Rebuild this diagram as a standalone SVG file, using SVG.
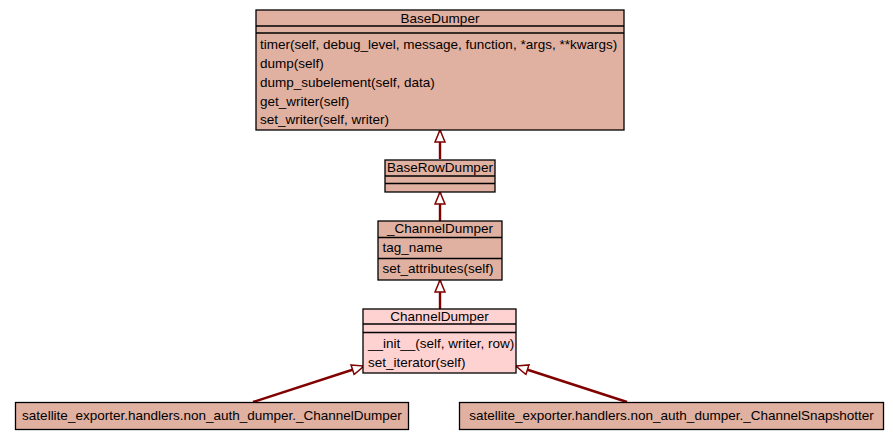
<svg xmlns="http://www.w3.org/2000/svg" width="893" height="440" viewBox="0 0 893 440">
<defs>
<style>
.box{fill:#e0b0a0;stroke:#000;stroke-width:1.3}
.box2{fill:#ffd2d2;stroke:#000;stroke-width:1.3}
.sep{stroke:#000;stroke-width:1.3}
text{font-family:"Liberation Sans",Arial,sans-serif;font-size:13.5px;fill:#000}
.c{text-anchor:middle}
.edge{stroke:#800000;stroke-width:2.4;fill:none;marker-end:url(#tri)}
</style>
<marker id="tri" markerUnits="userSpaceOnUse" viewBox="0 0 14 12" refX="13" refY="6" markerWidth="14" markerHeight="12" orient="auto">
<path d="M1,1 L13,6 L1,11 Z" fill="#fff" stroke="#800000" stroke-width="1.5"/>
</marker>
</defs>
<rect width="893" height="440" fill="#fff"/>
<g id="connectors">
<line class="edge" x1="440" y1="159" x2="440" y2="130"/>
<line class="edge" x1="440" y1="221" x2="440" y2="192"/>
<line class="edge" x1="440" y1="309" x2="440" y2="280"/>
<line class="edge" x1="253" y1="402" x2="364" y2="366"/>
<line class="edge" x1="627" y1="402" x2="516" y2="366"/>
</g>
<g id="BaseDumper">
<rect class="box" x="256" y="10" width="368" height="120"/>
<line class="sep" x1="256" y1="26" x2="624" y2="26"/>
<line class="sep" x1="256" y1="33" x2="624" y2="33"/>
<text class="c" x="440" y="22.5">BaseDumper</text>
<text x="260" y="48.5">timer(self, debug_level, message, function, *args, **kwargs)</text>
<text x="260" y="67.5">dump(self)</text>
<text x="260" y="86.5">dump_subelement(self, data)</text>
<text x="260" y="105.5">get_writer(self)</text>
<text x="260" y="124">set_writer(self, writer)</text>
</g>
<g id="BaseRowDumper">
<rect class="box" x="385" y="160" width="110" height="32"/>
<line class="sep" x1="385" y1="176" x2="495" y2="176"/>
<line class="sep" x1="385" y1="183.5" x2="495" y2="183.5"/>
<text class="c" x="440" y="171.5">BaseRowDumper</text>
</g>
<g id="_ChannelDumper">
<rect class="box" x="378" y="221" width="124" height="59"/>
<line class="sep" x1="378" y1="237.5" x2="502" y2="237.5"/>
<line class="sep" x1="378" y1="258.5" x2="502" y2="258.5"/>
<text class="c" x="440" y="233">_ChannelDumper</text>
<text x="382.5" y="251.5">tag_name</text>
<text x="382.5" y="273">set_attributes(self)</text>
</g>
<g id="ChannelDumper">
<rect class="box2" x="363" y="309" width="153" height="64"/>
<line class="sep" x1="363" y1="324" x2="516" y2="324"/>
<line class="sep" x1="363" y1="332.5" x2="516" y2="332.5"/>
<text class="c" x="439.5" y="320.5">ChannelDumper</text>
<text x="368" y="347.5">__init__(self, writer, row)</text>
<text x="368" y="366.5">set_iterator(self)</text>
</g>
<g id="NonAuthChannelDumper">
<rect class="box" x="15.5" y="402.5" width="393" height="27"/>
<text class="c" x="212" y="420">satellite_exporter.handlers.non_auth_dumper._ChannelDumper</text>
</g>
<g id="NonAuthChannelSnapshotter">
<rect class="box" x="459.5" y="402.5" width="424" height="27"/>
<text class="c" x="671.5" y="420">satellite_exporter.handlers.non_auth_dumper._ChannelSnapshotter</text>
</g>
</svg>
